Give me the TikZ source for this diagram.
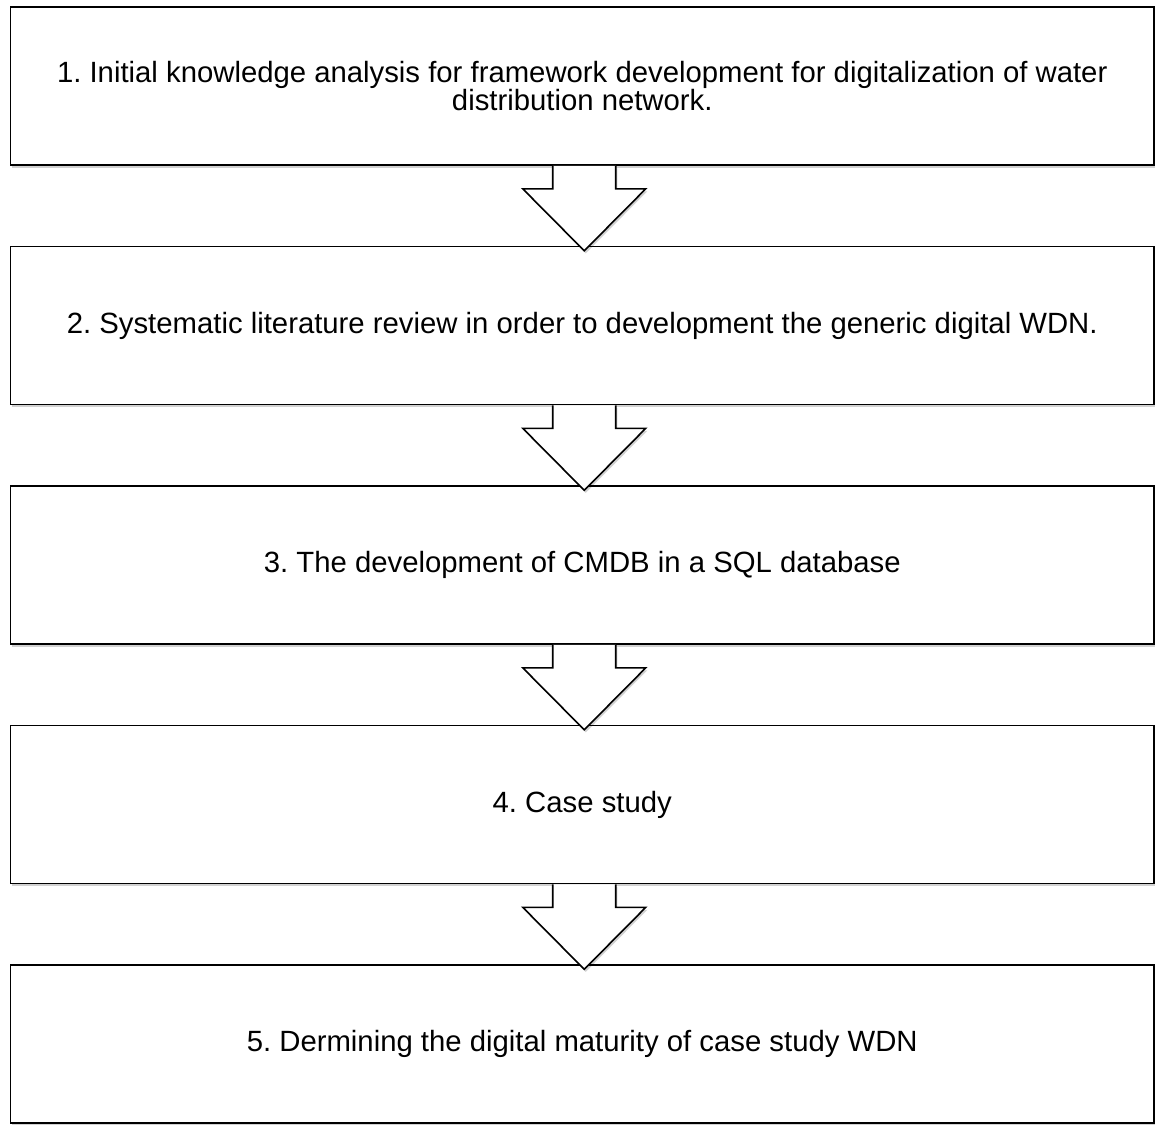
\documentclass[tikz,border=0pt]{standalone}
\usepackage{fontspec}
\setmainfont{Liberation Sans}
\usetikzlibrary{calc,shadows}
\frenchspacing
\tikzset{
  stepbox/.style={draw=black, line width=1.6pt, fill=white,
    minimum width=1143.5pt, minimum height=158pt, inner sep=0pt,
    align=center, font=\fontsize{29.3}{28.5}\selectfont,
    drop shadow={shadow xshift=1.5pt, shadow yshift=-2.5pt, fill=black, opacity=0.18}},
  blockarrow/.style={draw=black, line width=1.6pt, fill=white, line join=miter,
    drop shadow={shadow xshift=1.5pt, shadow yshift=-2.5pt, fill=black, opacity=0.18}}
}
\begin{document}
\begin{tikzpicture}[x=1pt,y=-1pt]
\useasboundingbox (0,0) rectangle (1155,1124);
\node[stepbox] (b1) at (582.25,86) {1. Initial knowledge analysis for framework development for digitalization of water\\distribution network.};
\node[stepbox] (b2) at (582.25,325.5) {2. Systematic literature review in order to development the generic digital WDN.};
\node[stepbox] (b3) at (582.25,565) {3. The development of CMDB in a SQL database};
\node[stepbox] (b4) at (582.25,804.5) {4. Case study};
\node[stepbox] (b5) at (582.25,1044) {5. Dermining the digital maturity of case study WDN};
\foreach \a in {b1,b2,b3,b4}{
  \draw[blockarrow] ($(\a.south)+(-29.5,0)$) -- ++(0,23) -- ++(-30,0) -- ++(61.5,62) -- ++(61.5,-62) -- ++(-30,0) -- ++(0,-23);
}
\end{tikzpicture}
\end{document}
